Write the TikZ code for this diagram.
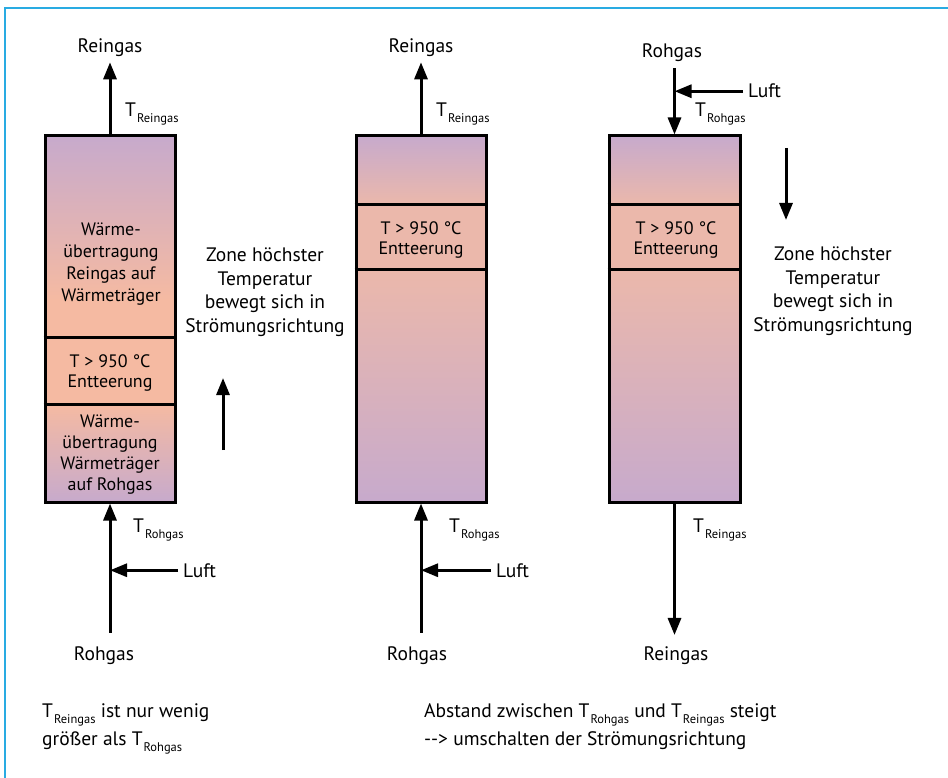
\documentclass[tikz,border=0pt]{standalone}
\usepackage{fontspec}
\setmainfont{PT Sans}
\usetikzlibrary{arrows.meta}
\definecolor{frameblue}{RGB}{41,171,226}
\definecolor{cool}{RGB}{199,170,204}
\definecolor{hot}{RGB}{245,186,162}
\definecolor{warm}{RGB}{235,184,171}
\newcommand{\Tidx}[1]{T\kern1pt\raisebox{-6pt}{\fontsize{12.5}{12.5}\selectfont #1}}

\begin{document}
\begin{tikzpicture}[x=1pt,y=-1pt,
    lbl/.style={inner sep=0pt,font=\fontsize{19.5}{23.5}\selectfont},
    boxtext/.style={inner sep=0pt,align=center,font=\fontsize{18}{22}\selectfont},
    column/.style={draw,line width=3pt,minimum width=130pt,minimum height=366pt,inner sep=0pt},
    wall/.style={line width=3pt},
    flow/.style={line width=3pt,-{Triangle[length=17pt,width=13pt]}}]
    \useasboundingbox (0,0) rectangle (948,778);
    % frame
    \draw[frameblue,line width=2pt] (5,778) -- (5,8) -- (948,8);

    % column 1: flow upwards
    \shade[top color=cool,bottom color=hot] (45,136) rectangle (175,300);
    \fill[hot] (45,300) rectangle (175,404);
    \shade[top color=hot,bottom color=cool] (45,404) rectangle (175,502);
    \node[column] (colA) at (110,319) {};
    \draw[wall] (colA.west |- 0,337) -- (colA.east |- 0,337);
    \draw[wall] (colA.west |- 0,404) -- (colA.east |- 0,404);
    \node[boxtext] (upA) at (111,264) {Wärme-\\übertragung\\Reingas auf\\Wärmeträger};
    \node[boxtext,font=\fontsize{18}{20}\selectfont] (hotA) at (110,373) {T > 950 °C\\Entteerung};
    \node[boxtext,font=\fontsize{18}{21}\selectfont] (downA) at (110,455) {Wärme-\\übertragung\\Wärmeträger\\auf Rohgas};

    \node[lbl,anchor=base] (outA) at (110,53) {Reingas};
    \node[lbl,anchor=base] (inA) at (104,660) {Rohgas};
    \node[lbl,anchor=base west] (luftA) at (183,577) {Luft};
    \node[lbl,anchor=base west] (tinA) at (133,532) {\Tidx{Rohgas}};
    \node[lbl,anchor=base west] (toutA) at (125,117) {\Tidx{Reingas}};
    \draw[flow,shorten >=5pt] (colA.north) -- (outA.south -| colA.north);
    \draw[flow,shorten <=13pt] (inA.north -| colA.south) -- (colA.south);
    \draw[flow,shorten <=5pt] (luftA.west) -- (luftA.west -| colA.south);

    % zone moves up
    \coordinate (zoneA0) at (223,450);
    \coordinate (zoneA1) at (223,378);
    \draw[flow] (zoneA0) -- (zoneA1);
    \node[lbl,align=center,anchor=north] (zoneA) at (265,248)
        {Zone höchster\\Temperatur\\bewegt sich in\\Strömungsrichtung};

    % column 2: hot zone near top
    \shade[top color=cool,bottom color=warm] (356,136) rectangle (486,205);
    \fill[warm] (356,205) rectangle (486,270);
    \shade[top color=warm,bottom color=cool] (356,270) rectangle (486,502);
    \node[column] (colB) at (421,319) {};
    \draw[wall] (colB.west |- 0,205) -- (colB.east |- 0,205);
    \draw[wall] (colB.west |- 0,270) -- (colB.east |- 0,270);
    \node[boxtext,font=\fontsize{18}{20}\selectfont] (hotB) at (421,240) {T > 950 °C\\Entteerung};

    \node[lbl,anchor=base] (outB) at (421,53) {Reingas};
    \node[lbl,anchor=base] (inB) at (417,660) {Rohgas};
    \node[lbl,anchor=base west] (luftB) at (496,577) {Luft};
    \node[lbl,anchor=base west] (tinB) at (449,532) {\Tidx{Rohgas}};
    \node[lbl,anchor=base west] (toutB) at (436,117) {\Tidx{Reingas}};
    \draw[flow,shorten >=5pt] (colB.north) -- (outB.south -| colB.north);
    \draw[flow,shorten <=13pt] (inB.north -| colB.south) -- (colB.south);
    \draw[flow,shorten <=5pt] (luftB.west) -- (luftB.west -| colB.south);

    % column 3: flow reversed
    \shade[top color=cool,bottom color=warm] (609,136) rectangle (740,205);
    \fill[warm] (609,205) rectangle (740,270);
    \shade[top color=warm,bottom color=cool] (609,270) rectangle (740,502);
    \node[column,minimum width=131pt] (colC) at (674.5,319) {};
    \draw[wall] (colC.west |- 0,205) -- (colC.east |- 0,205);
    \draw[wall] (colC.west |- 0,270) -- (colC.east |- 0,270);
    \node[boxtext,font=\fontsize{18}{20}\selectfont] (hotC) at (676,240) {T > 950 °C\\Entteerung};

    \node[lbl,anchor=base] (inC) at (672,58) {Rohgas};
    \node[lbl,anchor=base] (outC) at (676,660) {Reingas};
    \node[lbl,anchor=base west] (luftC) at (748,98) {Luft};
    \node[lbl,anchor=base west] (tinC) at (695,117) {\Tidx{Rohgas}};
    \node[lbl,anchor=base west] (toutC) at (693,532) {\Tidx{Reingas}};
    \draw[flow,shorten <=6pt] (inC.south -| colC.north) -- (colC.north);
    \draw[flow,shorten >=11pt] (colC.south) -- (outC.north -| colC.south);
    \draw[flow,shorten <=5pt] (luftC.west) -- (luftC.west -| colC.north);

    % zone moves down
    \coordinate (zoneC0) at (786,148);
    \coordinate (zoneC1) at (786,220);
    \draw[flow] (zoneC0) -- (zoneC1);
    \node[lbl,align=center,anchor=north] (zoneC) at (833,247)
        {Zone höchster\\Temperatur\\bewegt sich in\\Strömungsrichtung};

    % notes
    \node[lbl,align=left,anchor=north west,font=\fontsize{19.5}{28}\selectfont] (noteA) at (42,703)
        {\Tidx{Reingas} ist nur wenig\\größer als \Tidx{Rohgas}};
    \node[lbl,align=left,anchor=north west,font=\fontsize{19.5}{28}\selectfont] (noteB) at (424,703)
        {Abstand zwischen \Tidx{Rohgas} und \Tidx{Reingas} steigt\\-\kern0pt-\kern0pt> umschalten der Strömungsrichtung};
\end{tikzpicture}
\end{document}
